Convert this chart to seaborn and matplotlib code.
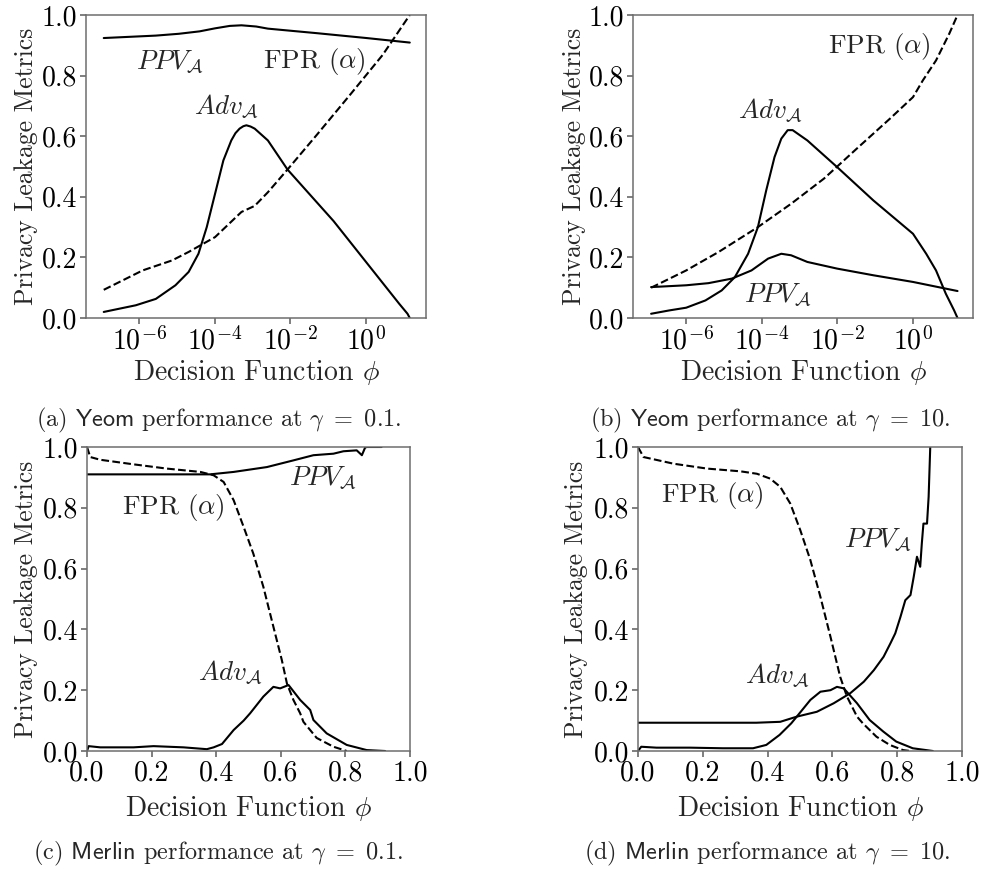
import numpy as np
import pandas as pd
import matplotlib
matplotlib.use("Agg")
import matplotlib.pyplot as plt
import seaborn as sns

# ---------------- data ----------------
# Panel (a): Yeom, gamma = 0.1  (x given as log10 of phi)
a_ppv_logx = [-6.94, -5.56, -4.95, -4.4, -3.99, -3.6, -3.29, -2.9, -2.59, -1.29, 0.02, 1.17]
a_ppv_y    = [0.924, 0.932, 0.938, 0.946, 0.956, 0.964, 0.966, 0.962, 0.955, 0.940, 0.924, 0.909]
a_fpr_logx = [-6.94, -5.91, -5.13, -4.69, -3.99, -3.29, -2.94, -2.59, -2.07, -1.29, -0.41, 0.45, 1.17]
a_fpr_y    = [0.093, 0.157, 0.190, 0.218, 0.267, 0.350, 0.370, 0.415, 0.490, 0.605, 0.737, 0.868, 1.000]
a_adv_logx = [-6.94, -6.09, -5.56, -5.04, -4.69, -4.43, -4.21, -3.99, -3.77, -3.56, -3.45, -3.34, -3.24, -3.16,
              -3.05, -2.94, -2.59, -2.07, -0.85, 0.89, 1.11, 1.17]
a_adv_y    = [0.020, 0.042, 0.063, 0.108, 0.152, 0.212, 0.300, 0.410, 0.520, 0.586, 0.610, 0.625, 0.633, 0.636,
              0.632, 0.625, 0.586, 0.490, 0.320, 0.047, 0.014, 0.000]

# Panel (b): Yeom, gamma = 10
b_ppv_logx = [-6.93, -6.00, -5.41, -4.79, -4.27, -3.83, -3.48, -3.22, -2.79, -2.00, -1.04, 0.01, 1.19]
b_ppv_y    = [0.102, 0.108, 0.115, 0.130, 0.157, 0.196, 0.212, 0.207, 0.185, 0.163, 0.141, 0.119, 0.089]
b_fpr_logx = [-6.93, -6.00, -5.14, -4.10, -3.22, -2.35, -1.48, -0.60, 0.01, 0.27, 0.62, 0.97, 1.19]
b_fpr_y    = [0.100, 0.157, 0.218, 0.300, 0.377, 0.460, 0.559, 0.658, 0.729, 0.784, 0.850, 0.938, 1.000]
b_adv_logx = [-6.93, -6.45, -6.00, -5.49, -5.06, -4.71, -4.36, -4.10, -3.88, -3.66, -3.48, -3.31, -3.18,
              -2.79, -2.00, -1.04, 0.01, 0.36, 0.62, 0.88, 1.10, 1.19]
b_adv_y    = [0.014, 0.025, 0.034, 0.058, 0.091, 0.135, 0.212, 0.300, 0.421, 0.531, 0.592, 0.620, 0.620,
              0.586, 0.498, 0.388, 0.278, 0.212, 0.157, 0.080, 0.025, 0.000]

# Panel (c): Merlin, gamma = 0.1
c_ppv_x = [0.0, 0.381, 0.454, 0.557, 0.639, 0.701, 0.763, 0.794, 0.835, 0.851, 0.861, 0.866, 0.912]
c_ppv_y = [0.910, 0.910, 0.918, 0.934, 0.956, 0.973, 0.978, 0.986, 0.989, 0.973, 0.998, 1.000, 1.000]
c_fpr_x = [0.0, 0.010, 0.041, 0.144, 0.247, 0.351, 0.392, 0.423, 0.454, 0.485, 0.515, 0.546, 0.577,
           0.603, 0.619, 0.639, 0.660, 0.670, 0.711, 0.763, 0.804]
c_fpr_y = [1.000, 0.967, 0.958, 0.943, 0.929, 0.918, 0.907, 0.885, 0.825, 0.737, 0.649, 0.540, 0.409,
           0.300, 0.222, 0.168, 0.124, 0.096, 0.043, 0.014, 0.000]
c_adv_x = [0.0, 0.005, 0.041, 0.144, 0.206, 0.299, 0.371, 0.392, 0.418, 0.454, 0.485, 0.505, 0.546,
           0.577, 0.598, 0.624, 0.660, 0.691, 0.701, 0.742, 0.804, 0.866, 0.923]
c_adv_y = [0.000, 0.016, 0.012, 0.012, 0.016, 0.012, 0.006, 0.012, 0.023, 0.069, 0.100, 0.124, 0.179,
           0.211, 0.206, 0.217, 0.168, 0.135, 0.102, 0.058, 0.020, 0.003, 0.000]

# Panel (d): Merlin, gamma = 10
d_ppv_x = [0.0, 0.365, 0.439, 0.490, 0.552, 0.604, 0.655, 0.697, 0.728, 0.758, 0.779, 0.794, 0.810,
           0.825, 0.841, 0.851, 0.861, 0.871, 0.876, 0.881, 0.892, 0.897, 0.902]
d_ppv_y = [0.093, 0.093, 0.096, 0.113, 0.129, 0.157, 0.190, 0.228, 0.266, 0.310, 0.354, 0.387, 0.441,
           0.496, 0.513, 0.573, 0.639, 0.606, 0.683, 0.748, 0.748, 0.836, 1.000]
d_fpr_x = [0.0, 0.017, 0.110, 0.213, 0.316, 0.367, 0.408, 0.439, 0.470, 0.501, 0.532, 0.563, 0.594,
           0.624, 0.645, 0.676, 0.694, 0.736, 0.777, 0.818, 0.840]
d_fpr_y = [1.000, 0.967, 0.945, 0.929, 0.920, 0.912, 0.896, 0.869, 0.814, 0.726, 0.628, 0.507, 0.376,
           0.244, 0.179, 0.113, 0.091, 0.047, 0.020, 0.003, 0.000]
d_adv_x = [0.0, 0.010, 0.057, 0.160, 0.262, 0.355, 0.396, 0.437, 0.473, 0.490, 0.532, 0.563, 0.594,
           0.614, 0.635, 0.676, 0.715, 0.757, 0.797, 0.848, 0.910]
d_adv_y = [0.000, 0.014, 0.011, 0.011, 0.009, 0.009, 0.020, 0.053, 0.091, 0.113, 0.168, 0.195, 0.200,
           0.211, 0.206, 0.157, 0.102, 0.064, 0.031, 0.009, 0.000]

log_ticks = [-6, -4, -2, 0]
log_tick_labels = [r"$10^{-6}$", r"$10^{-4}$", r"$10^{-2}$", r"$10^{0}$"]
lin_ticks = [0.0, 0.2, 0.4, 0.6, 0.8, 1.0]
y_ticks = [0.0, 0.2, 0.4, 0.6, 0.8, 1.0]

captions = [r"(a) $\mathsf{Yeom}$ performance at $\gamma\ =\ 0.1$.",
            r"(b) $\mathsf{Yeom}$ performance at $\gamma\ =\ 10$.",
            r"(c) $\mathsf{Merlin}$ performance at $\gamma\ =\ 0.1$.",
            r"(d) $\mathsf{Merlin}$ performance at $\gamma\ =\ 10$."]

PPV = r"$PPV_{\mathcal{A}}$"
ADV = r"$Adv_{\mathcal{A}}$"
FPR = r"FPR $(\alpha)$"

# ---------------- style ----------------
sns.set_theme(style="ticks")
plt.rcParams.update({
    "font.family": ["cmr10", "DejaVu Serif"],
    "mathtext.fontset": "cm",
    "axes.formatter.use_mathtext": True,
    "axes.edgecolor": "#6e6e6e",
    "axes.linewidth": 1.1,
    "xtick.color": "#6e6e6e",
    "ytick.color": "#6e6e6e",
    "xtick.labelcolor": "black",
    "ytick.labelcolor": "black",
    "xtick.major.size": 4,
    "ytick.major.size": 4,
})

W, H = 981, 869
fig = plt.figure(figsize=(W / 100, H / 100), dpi=100)

def add_ax(l, t, r, b):
    return fig.add_axes([l / W, 1 - b / H, (r - l) / W, (b - t) / H])

axes = [add_ax(86, 15, 426, 318), add_ax(633, 15, 973, 318),
        add_ax(87, 447, 410, 751), add_ax(638, 447, 962, 751)]

TICK_FS = 20
XLABEL_FS = 20
YLABEL_FS = 18.5
NOTE_FS = 19.5
CAP_FS = 17.5
LW = 1.5

def draw(ax, x, y, dashed=False):
    df = pd.DataFrame({"x": x, "y": y})
    sns.lineplot(data=df, x="x", y="y", ax=ax, color="black", lw=LW,
                 linestyle="--" if dashed else "-", estimator=None, sort=False)

# Top panels: log axis of phi
top = [
    (axes[0], (a_ppv_logx, a_ppv_y), (a_fpr_logx, a_fpr_y), (a_adv_logx, a_adv_y),
     [(PPV, -5.2, 0.845), (FPR, -1.37, 0.845), (ADV, -3.68, 0.70)]),
    (axes[1], (b_ppv_logx, b_ppv_y), (b_fpr_logx, b_fpr_y), (b_adv_logx, b_adv_y),
     [(PPV, -3.58, 0.076), (FPR, -0.87, 0.895), (ADV, -3.76, 0.686)]),
]
for ax, ppv, fpr, adv, notes in top:
    draw(ax, [10 ** v for v in ppv[0]], ppv[1])
    draw(ax, [10 ** v for v in fpr[0]], fpr[1], dashed=True)
    draw(ax, [10 ** v for v in adv[0]], adv[1])
    ax.set_xscale("log")
    ax.set_xlim(10 ** -7.41, 10 ** 1.6)
    ax.set_xticks([10.0 ** t for t in log_ticks])
    ax.set_xticklabels(log_tick_labels)
    ax.minorticks_off()
    for txt, lx, ly in notes:
        ax.text(10 ** lx, ly, txt, ha="center", va="center", fontsize=NOTE_FS)

bottom = [
    (axes[2], (c_ppv_x, c_ppv_y), (c_fpr_x, c_fpr_y), (c_adv_x, c_adv_y),
     [(PPV, 0.73, 0.898), (FPR, 0.266, 0.80), (ADV, 0.443, 0.257)]),
    (axes[3], (d_ppv_x, d_ppv_y), (d_fpr_x, d_fpr_y), (d_adv_x, d_adv_y),
     [(PPV, 0.741, 0.694), (FPR, 0.228, 0.842), (ADV, 0.429, 0.25)]),
]
for ax, ppv, fpr, adv, notes in bottom:
    draw(ax, *ppv)
    draw(ax, *fpr, dashed=True)
    draw(ax, *adv)
    ax.set_xlim(0, 1)
    ax.set_xticks(lin_ticks)
    ax.set_xticklabels([f"{v:.1f}" for v in lin_ticks])
    for txt, lx, ly in notes:
        ax.text(lx, ly, txt, ha="center", va="center", fontsize=NOTE_FS)

ylab_x = [-0.141, -0.138, -0.152, -0.154]
xlab_y = [-0.132, -0.132, -0.143, -0.143]
for ax, yx, xy in zip(axes, ylab_x, xlab_y):
    ax.set_ylim(0, 1)
    ax.set_yticks(y_ticks)
    ax.set_yticklabels([f"{v:.1f}" for v in y_ticks])
    ax.tick_params(labelsize=TICK_FS, pad=2.5)
    ax.set_xlabel(r"Decision Function $\phi$", fontsize=XLABEL_FS)
    ax.set_ylabel("Privacy Leakage Metrics", fontsize=YLABEL_FS)
    ax.yaxis.set_label_coords(yx, 0.5)
    ax.xaxis.set_label_coords(0.5, xy)
    for s in ax.spines.values():
        s.set_visible(True)

cap_pos = [(219, 420), (770, 420), (218, 853), (767, 853)]
for (cx, cy), cap in zip(cap_pos, captions):
    fig.text(cx / W, 1 - cy / H, cap, ha="center", va="center", fontsize=CAP_FS)

fig.savefig("out.png", dpi=100)
